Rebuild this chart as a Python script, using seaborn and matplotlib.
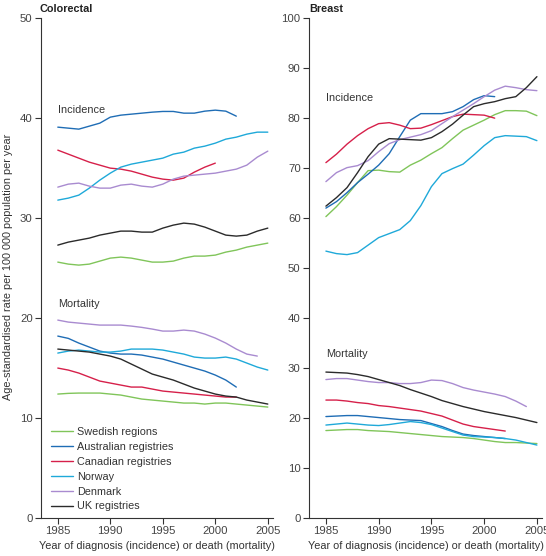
import numpy as np
import pandas as pd
import matplotlib
matplotlib.use('Agg')
import matplotlib.pyplot as plt
import seaborn as sns

# registries and colours
registries = ['Swedish regions', 'Australian registries', 'Canadian registries',
              'Norway', 'Denmark', 'UK registries']
colours = ['#80c55a', '#1f6db5', '#d6204a', '#1fa9d9', '#a98bd0', '#2b2b2b']

# colorectal incidence
cr_inc_swe = [25.6, 25.4, 25.3, 25.4, 25.7, 26.0, 26.1, 26.0, 25.8, 25.6, 25.6, 25.7, 26.0, 26.2, 26.2, 26.3, 26.6, 26.8, 27.1, 27.3, 27.5]
cr_inc_aus = [39.1, 39.0, 38.9, 39.2, 39.5, 40.1, 40.3, 40.4, 40.5, 40.6, 40.67, 40.67, 40.5, 40.5, 40.7, 40.8, 40.7, 40.2]
cr_inc_can = [36.8, 36.4, 36.0, 35.6, 35.3, 35.0, 34.9, 34.7, 34.4, 34.1, 33.9, 33.8, 34.0, 34.6, 35.1, 35.5]
cr_inc_nor = [31.8, 32.0, 32.3, 33.0, 33.8, 34.5, 35.1, 35.4, 35.6, 35.8, 36.0, 36.4, 36.6, 37.0, 37.2, 37.5, 37.9, 38.1, 38.4, 38.6, 38.6]
cr_inc_den = [33.1, 33.4, 33.5, 33.2, 33.0, 33.0, 33.3, 33.4, 33.2, 33.1, 33.4, 33.9, 34.2, 34.3, 34.4, 34.5, 34.7, 34.9, 35.3, 36.1, 36.7]
cr_inc_uk = [27.3, 27.6, 27.8, 28.0, 28.3, 28.5, 28.7, 28.7, 28.6, 28.6, 29.0, 29.3, 29.5, 29.4, 29.1, 28.7, 28.3, 28.2, 28.3, 28.7, 29.0]

# colorectal mortality
cr_mor_swe = [12.4, 12.47, 12.5, 12.5, 12.5, 12.4, 12.3, 12.1, 11.9, 11.8, 11.7, 11.6, 11.5, 11.5, 11.4, 11.5, 11.5, 11.4, 11.3, 11.2, 11.1]
cr_mor_aus = [18.2, 17.97, 17.5, 17.1, 16.7, 16.5, 16.4, 16.4, 16.3, 16.1, 15.9, 15.6, 15.3, 15.0, 14.7, 14.3, 13.8, 13.1]
cr_mor_can = [15.0, 14.8, 14.5, 14.1, 13.7, 13.5, 13.3, 13.1, 13.1, 12.9, 12.7, 12.6, 12.5, 12.4, 12.3, 12.2, 12.1, 12.1]
cr_mor_nor = [16.5, 16.7, 16.8, 16.7, 16.6, 16.6, 16.7, 16.9, 16.9, 16.9, 16.8, 16.6, 16.4, 16.1, 16.0, 16.0, 16.1, 15.9, 15.5, 15.1, 14.8]
cr_mor_den = [19.8, 19.6, 19.5, 19.4, 19.3, 19.3, 19.3, 19.2, 19.07, 18.9, 18.7, 18.7, 18.8, 18.7, 18.4, 18.0, 17.5, 16.9, 16.4, 16.2]
cr_mor_uk = [16.9, 16.8, 16.7, 16.6, 16.4, 16.2, 15.9, 15.4, 14.9, 14.4, 14.1, 13.8, 13.4, 13.0, 12.7, 12.4, 12.2, 12.1, 11.8, 11.6, 11.4]

# breast incidence
br_inc_swe = [60.3, 62.3, 64.6, 67.1, 69.5, 69.6, 69.3, 69.2, 70.6, 71.6, 72.9, 74.1, 75.9, 77.6, 78.6, 79.6, 80.7, 81.5, 81.5, 81.4, 80.5]
br_inc_aus = [62.0, 63.3, 65.1, 67.1, 68.8, 70.6, 72.9, 76.3, 79.6, 80.9, 80.9, 80.9, 81.3, 82.3, 83.7, 84.5, 84.3]
br_inc_can = [71.1, 72.8, 74.8, 76.5, 77.9, 78.9, 79.1, 78.6, 77.9, 78.0, 78.7, 79.5, 80.3, 80.8, 80.7, 80.6, 80.0]
br_inc_nor = [53.4, 52.9, 52.7, 53.1, 54.6, 56.1, 56.9, 57.7, 59.5, 62.5, 66.3, 68.9, 69.9, 70.8, 72.6, 74.5, 76.1, 76.5, 76.4, 76.3, 75.5]
br_inc_den = [67.3, 69.1, 70.1, 70.5, 71.5, 73.3, 74.9, 75.7, 76.2, 76.7, 77.5, 78.9, 80.3, 81.6, 82.9, 84.3, 85.6, 86.4, 86.1, 85.7, 85.5]
br_inc_uk = [62.4, 64.1, 66.1, 69.1, 72.3, 74.8, 75.9, 75.8, 75.7, 75.6, 76.1, 77.3, 78.8, 80.6, 82.3, 82.9, 83.3, 83.9, 84.3, 86.1, 88.3]

# breast mortality
br_mor_swe = [17.5, 17.6, 17.7, 17.7, 17.5, 17.4, 17.3, 17.1, 16.9, 16.7, 16.5, 16.3, 16.2, 16.1, 15.9, 15.6, 15.3, 15.1, 15.1, 15.0, 14.9]
br_mor_aus = [20.3, 20.4, 20.5, 20.5, 20.3, 20.1, 19.9, 19.7, 19.6, 19.5, 18.9, 18.3, 17.5, 16.8, 16.5, 16.3, 16.1, 15.9]
br_mor_can = [23.6, 23.6, 23.4, 23.1, 22.9, 22.5, 22.3, 22.0, 21.7, 21.4, 20.9, 20.4, 19.6, 18.8, 18.3, 18.0, 17.7, 17.4]
br_mor_nor = [18.6, 18.8, 19.0, 18.8, 18.6, 18.5, 18.7, 19.0, 19.3, 19.1, 18.7, 18.0, 17.3, 16.6, 16.3, 16.2, 16.1, 15.9, 15.6, 15.1, 14.6]
br_mor_den = [27.7, 27.9, 27.9, 27.6, 27.3, 27.1, 27.1, 26.9, 26.9, 27.1, 27.6, 27.5, 26.9, 26.1, 25.6, 25.2, 24.8, 24.3, 23.4, 22.3]
br_mor_uk = [29.2, 29.1, 29.0, 28.7, 28.3, 27.7, 27.1, 26.5, 25.7, 25.0, 24.3, 23.5, 22.9, 22.3, 21.8, 21.3, 20.9, 20.5, 20.1, 19.6, 19.1]

xticks = [1985, 1990, 1995, 2000, 2005]


def long_table(series):
    rows = []
    for measure, vals in series.items():
        for reg, v in zip(registries, vals):
            for i, r in enumerate(v):
                rows.append((measure, reg, 1985 + i, r))
    return pd.DataFrame(rows, columns=['measure', 'registry', 'year', 'rate'])


colorectal = long_table({
    'Incidence': [cr_inc_swe, cr_inc_aus, cr_inc_can, cr_inc_nor, cr_inc_den, cr_inc_uk],
    'Mortality': [cr_mor_swe, cr_mor_aus, cr_mor_can, cr_mor_nor, cr_mor_den, cr_mor_uk],
})
breast = long_table({
    'Incidence': [br_inc_swe, br_inc_aus, br_inc_can, br_inc_nor, br_inc_den, br_inc_uk],
    'Mortality': [br_mor_swe, br_mor_aus, br_mor_can, br_mor_nor, br_mor_den, br_mor_uk],
})

sns.set_style('white')
plt.rcParams['font.family'] = ['Liberation Sans', 'DejaVu Sans']

fig = plt.figure(figsize=(5.46, 5.56), dpi=100)
ax1 = fig.add_axes([0.0751, 0.0683, 0.425, 0.899])
ax2 = fig.add_axes([0.566, 0.0683, 0.427, 0.899])

pal = dict(zip(registries, colours))
for ax, df in [(ax1, colorectal), (ax2, breast)]:
    sns.lineplot(data=df, x='year', y='rate', hue='registry', units='measure',
                 estimator=None, palette=pal, hue_order=registries,
                 linewidth=1.0, legend=False, ax=ax)
    ax.set_xlim(1983.4, 2005.5)
    ax.set_xticks(xticks)
    for s in ['top', 'right']:
        ax.spines[s].set_visible(False)
    for s in ['left', 'bottom']:
        ax.spines[s].set_color('#333333')
        ax.spines[s].set_linewidth(0.8)
    ax.tick_params(axis='both', direction='out', length=4, width=0.8,
                   color='#333333', labelsize=8.2, labelcolor='#444444',
                   bottom=True, left=True, pad=2)
    ax.set_xlabel('Year of diagnosis (incidence) or death (mortality)',
                  fontsize=7.8, color='#333333', labelpad=3)
    ax.set_ylabel('')

ax1.set_ylim(0, 50)
ax1.set_yticks([0, 10, 20, 30, 40, 50])
ax2.set_ylim(0, 100)
ax2.set_yticks(range(0, 101, 10))

txt = dict(fontsize=7.8, color='#333333', ha='left', va='center')
ax1.text(1985, 40.8, 'Incidence', **txt)
ax1.text(1985, 21.4, 'Mortality', **txt)
ax2.text(1985, 84.0, 'Incidence', **txt)
ax2.text(1985, 32.8, 'Mortality', **txt)

fig.text(0.073, 0.993, 'Colorectal', fontsize=7.8, fontweight='bold', color='#222222', va='top')
fig.text(0.566, 0.993, 'Breast', fontsize=7.8, fontweight='bold', color='#222222', va='top')
fig.text(0.014, 0.52, 'Age-standardised rate per 100 000 population per year',
         rotation=90, fontsize=7.8, color='#333333', ha='center', va='center')

handles = [plt.Line2D([], [], color=c, lw=1.0) for c in colours]
ax1.legend(handles, registries, loc='lower left', bbox_to_anchor=(0.01, -0.002),
           frameon=False, fontsize=7.8, handlelength=2.0, handletextpad=0.4,
           labelspacing=0.45, borderaxespad=0.3)
for t in ax1.get_legend().get_texts():
    t.set_color('#333333')

fig.savefig('out.png', dpi=100)
